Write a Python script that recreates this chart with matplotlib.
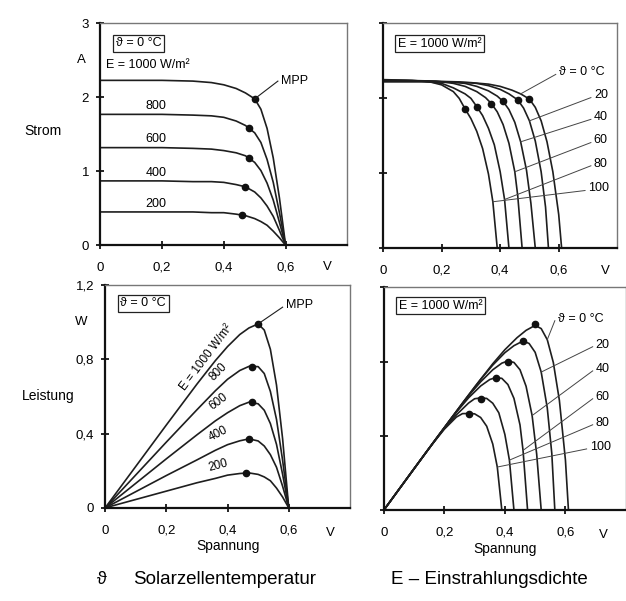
import matplotlib
matplotlib.use("Agg")
import matplotlib.pyplot as plt
import numpy as np

plt.rcParams['font.family'] = ['Liberation Sans', 'DejaVu Sans']
plt.rcParams['font.size'] = 9

# --- I-V curves at 0 degC for different irradiances E (W/m2) ---
E_levels = [1000, 800, 600, 400, 200]
v_e = [0, 0.10, 0.20, 0.30, 0.36, 0.40, 0.44, 0.47, 0.50, 0.52, 0.54, 0.56, 0.58, 0.60]
i_e = {
    1000: [2.23, 2.23, 2.23, 2.22, 2.20, 2.17, 2.12, 2.06, 1.98, 1.84, 1.58, 1.18, 0.64, 0.0],
    800:  [1.77, 1.77, 1.77, 1.76, 1.75, 1.73, 1.68, 1.62, 1.52, 1.39, 1.16, 0.85, 0.44, 0.0],
    600:  [1.32, 1.32, 1.32, 1.31, 1.30, 1.28, 1.25, 1.21, 1.12, 1.01, 0.84, 0.61, 0.31, 0.0],
    400:  [0.87, 0.87, 0.87, 0.86, 0.86, 0.85, 0.82, 0.79, 0.72, 0.64, 0.53, 0.39, 0.20, 0.0],
    200:  [0.45, 0.45, 0.45, 0.45, 0.44, 0.44, 0.42, 0.40, 0.36, 0.32, 0.27, 0.19, 0.10, 0.0],
}
mpp_e_v = [0.50, 0.48, 0.48, 0.47, 0.46]
mpp_e_i = [1.98, 1.58, 1.18, 0.79, 0.41]
mpp_e_p = [0.99, 0.76, 0.57, 0.37, 0.19]

# --- I-V curves at E = 1000 W/m2 for different cell temperatures (degC) ---
T_levels = [0, 20, 40, 60, 80, 100]
v_t = {
    0:   [0, 0.20, 0.30, 0.36, 0.40, 0.44, 0.47, 0.50, 0.52, 0.54, 0.56, 0.58, 0.60, 0.61],
    20:  [0, 0.16, 0.26, 0.32, 0.36, 0.40, 0.43, 0.46, 0.48, 0.50, 0.52, 0.54, 0.555, 0.565],
    40:  [0, 0.12, 0.22, 0.28, 0.32, 0.36, 0.39, 0.41, 0.43, 0.45, 0.47, 0.49, 0.505, 0.52],
    60:  [0, 0.08, 0.18, 0.24, 0.28, 0.32, 0.35, 0.37, 0.39, 0.41, 0.43, 0.45, 0.46, 0.475],
    80:  [0, 0.04, 0.14, 0.20, 0.24, 0.28, 0.30, 0.32, 0.34, 0.36, 0.38, 0.40, 0.415, 0.43],
    100: [0, 0.10, 0.16, 0.20, 0.24, 0.26, 0.28, 0.30, 0.32, 0.34, 0.36, 0.375, 0.39],
}
i_t = {
    0:   [2.22, 2.22, 2.21, 2.19, 2.16, 2.11, 2.06, 1.99, 1.88, 1.70, 1.42, 1.02, 0.45, 0.0],
    20:  [2.23, 2.23, 2.22, 2.20, 2.17, 2.12, 2.06, 1.98, 1.87, 1.70, 1.43, 1.02, 0.55, 0.0],
    40:  [2.23, 2.23, 2.22, 2.20, 2.16, 2.10, 2.03, 1.96, 1.85, 1.68, 1.42, 1.04, 0.60, 0.0],
    60:  [2.24, 2.24, 2.23, 2.20, 2.16, 2.09, 2.01, 1.93, 1.82, 1.65, 1.40, 1.02, 0.70, 0.0],
    80:  [2.24, 2.24, 2.23, 2.20, 2.14, 2.06, 2.00, 1.89, 1.77, 1.60, 1.38, 1.02, 0.65, 0.0],
    100: [2.25, 2.24, 2.22, 2.18, 2.09, 2.00, 1.86, 1.73, 1.56, 1.33, 0.99, 0.62, 0.0],
}
mpp_t_v = [0.50, 0.46, 0.41, 0.37, 0.32, 0.28]
mpp_t_i = [1.99, 1.98, 1.96, 1.93, 1.89, 1.86]
mpp_t_p = [1.00, 0.91, 0.80, 0.71, 0.60, 0.52]

LC = '#1e1e1e'
LW = 1.2


def style(ax, xlim, ylim, xt, yt):
    ax.set_xlim(*xlim)
    ax.set_ylim(*ylim)
    ax.set_xticks(xt)
    ax.set_yticks(yt)
    for s in ('left', 'bottom'):
        ax.spines[s].set_linewidth(1.6)
        ax.spines[s].set_color('#111')
    for s in ('top', 'right'):
        ax.spines[s].set_linewidth(1.0)
        ax.spines[s].set_color('#777')
    ax.tick_params(direction='inout', length=6, width=1.2, labelsize=9.5)
    ax.tick_params(axis='x', pad=9)
    ax.tick_params(axis='y', pad=5)


def fmt(vals):
    return [('%g' % v).replace('.', ',') for v in vals]


fig = plt.figure(figsize=(6.26, 6.01), dpi=100)
ax1 = fig.add_axes([0.160, 0.592, 0.395, 0.369])
ax2 = fig.add_axes([0.612, 0.587, 0.374, 0.374])
ax3 = fig.add_axes([0.168, 0.155, 0.391, 0.371])
ax4 = fig.add_axes([0.613, 0.151, 0.387, 0.371])

box = dict(boxstyle='square,pad=0.2', fc='white', ec='#222', lw=0.9)

# ---------- top left: current, irradiance ----------
style(ax1, (0, 0.8), (0, 3), [0, 0.2, 0.4, 0.6], [0, 1, 2, 3])
ax1.set_xticklabels(fmt([0, 0.2, 0.4, 0.6]))
for e in E_levels:
    ax1.plot(v_e, i_e[e], color=LC, lw=LW)
ax1.plot(mpp_e_v, mpp_e_i, 'o', color='#111', ms=4.5)
ax1.text(0.05, 2.73, 'ϑ = 0 °C', ha='left', va='center', bbox=box, fontsize=9)
ax1.text(0.02, 2.36, 'E = 1000 W/m²', ha='left', va='bottom', fontsize=9)
for e, y in zip(E_levels[1:], [1.80, 1.35, 0.89, 0.48]):
    ax1.text(0.18, y, str(e), ha='center', va='bottom', fontsize=9)
ax1.plot([0.575, mpp_e_v[0]], [2.22, mpp_e_i[0]], color=LC, lw=0.8)
ax1.text(0.585, 2.22, 'MPP', ha='left', va='center', fontsize=9)
ax1.text(-0.06, 2.5, 'A', ha='center', va='center', fontsize=9.5, clip_on=False)
ax1.text(0.735, -0.30, 'V', ha='center', va='center', fontsize=9.5, clip_on=False)
ax1.text(-0.185, 1.55, 'Strom', ha='center', va='center', fontsize=10)

# ---------- top right: current, temperature ----------
style(ax2, (0, 0.8), (0, 3), [0, 0.2, 0.4, 0.6], [0, 1, 2, 3])
ax2.set_xticklabels(fmt([0, 0.2, 0.4, 0.6]))
ax2.set_yticklabels([])
for t in T_levels:
    ax2.plot(v_t[t], i_t[t], color=LC, lw=LW)
ax2.plot(mpp_t_v, mpp_t_i, 'o', color='#111', ms=4.5)
ax2.text(0.05, 2.73, 'E = 1000 W/m²', ha='left', va='center', bbox=box, fontsize=9)
lab_tr = [(0.60, 2.35, 'ϑ = 0 °C', 6), (0.72, 2.04, '20', 9), (0.72, 1.75, '40', 10),
          (0.72, 1.44, '60', 11), (0.72, 1.13, '80', 12), (0.70, 0.80, '100', 11)]
for t, (x, y, s, k) in zip(T_levels, lab_tr):
    ax2.text(x, y, s, ha='left', va='center', fontsize=9)
    ax2.plot([x - 0.01, v_t[t][k]], [y - 0.03, i_t[t][k]], color='#444', lw=0.7)
ax2.text(0.76, -0.30, 'V', ha='center', va='center', fontsize=9.5, clip_on=False)

# ---------- bottom left: power, irradiance ----------
style(ax3, (0, 0.8), (0, 1.2), [0, 0.2, 0.4, 0.6], [0, 0.4, 0.8, 1.2])
ax3.set_xticklabels(fmt([0, 0.2, 0.4, 0.6]))
ax3.set_yticklabels(fmt([0, 0.4, 0.8, 1.2]))
for e in E_levels:
    # power = voltage x current of the read curve
    ax3.plot(v_e, np.array(v_e) * np.array(i_e[e]), color=LC, lw=LW)
ax3.plot(mpp_e_v, mpp_e_p, 'o', color='#111', ms=4.5)
ax3.text(0.05, 1.10, 'ϑ = 0 °C', ha='left', va='center', bbox=box, fontsize=9)
ax3.text(0.33, 0.81, 'E = 1000 W/m²', ha='center', va='center', rotation=53,
         fontsize=8.5)
for e, y, r in zip(E_levels[1:], [0.73, 0.57, 0.40, 0.23], [45, 37, 27, 15]):
    ax3.text(0.37, y, str(e), ha='center', va='center', rotation=r, fontsize=8.5)
ax3.plot([0.58, mpp_e_v[0]], [1.08, mpp_e_p[0]], color=LC, lw=0.8)
ax3.text(0.59, 1.09, 'MPP', ha='left', va='center', fontsize=9)
ax3.text(-0.08, 1.0, 'W', ha='center', va='center', fontsize=9.5, clip_on=False)
ax3.text(0.735, -0.135, 'V', ha='center', va='center', fontsize=9.5, clip_on=False)
ax3.text(-0.185, 0.6, 'Leistung', ha='center', va='center', fontsize=10)
ax3.set_xlabel('Spannung', fontsize=10, labelpad=2)

# ---------- bottom right: power, temperature ----------
style(ax4, (0, 0.8), (0, 1.2), [0, 0.2, 0.4, 0.6], [0, 0.4, 0.8, 1.2])
ax4.set_xticklabels(fmt([0, 0.2, 0.4, 0.6]))
ax4.set_yticklabels([])
for t in T_levels:
    ax4.plot(v_t[t], np.array(v_t[t]) * np.array(i_t[t]), color=LC, lw=LW)
ax4.plot(mpp_t_v, mpp_t_p, 'o', color='#111', ms=4.5)
ax4.text(0.05, 1.10, 'E = 1000 W/m²', ha='left', va='center', bbox=box, fontsize=9)
lab_br = [(0.575, 1.03, 'ϑ = 0 °C', 9), (0.70, 0.89, '20', 10), (0.70, 0.76, '40', 11),
          (0.70, 0.61, '60', 12), (0.70, 0.47, '80', 12), (0.68, 0.34, '100', 11)]
for t, (x, y, s, k) in zip(T_levels, lab_br):
    ax4.text(x, y, s, ha='left', va='center', fontsize=9)
    ax4.plot([x - 0.01, v_t[t][k]], [y - 0.01, v_t[t][k] * i_t[t][k]], color='#444', lw=0.7)
ax4.text(0.725, -0.135, 'V', ha='center', va='center', fontsize=9.5, clip_on=False)
ax4.set_xlabel('Spannung', fontsize=10, labelpad=2)

fig.text(0.155, 0.035, 'ϑ', fontsize=13, va='center')
fig.text(0.213, 0.035, 'Solarzellentemperatur', fontsize=13.5, va='center')
fig.text(0.625, 0.035, 'E – Einstrahlungsdichte', fontsize=13.5, va='center')

fig.savefig('out.png', dpi=100)
